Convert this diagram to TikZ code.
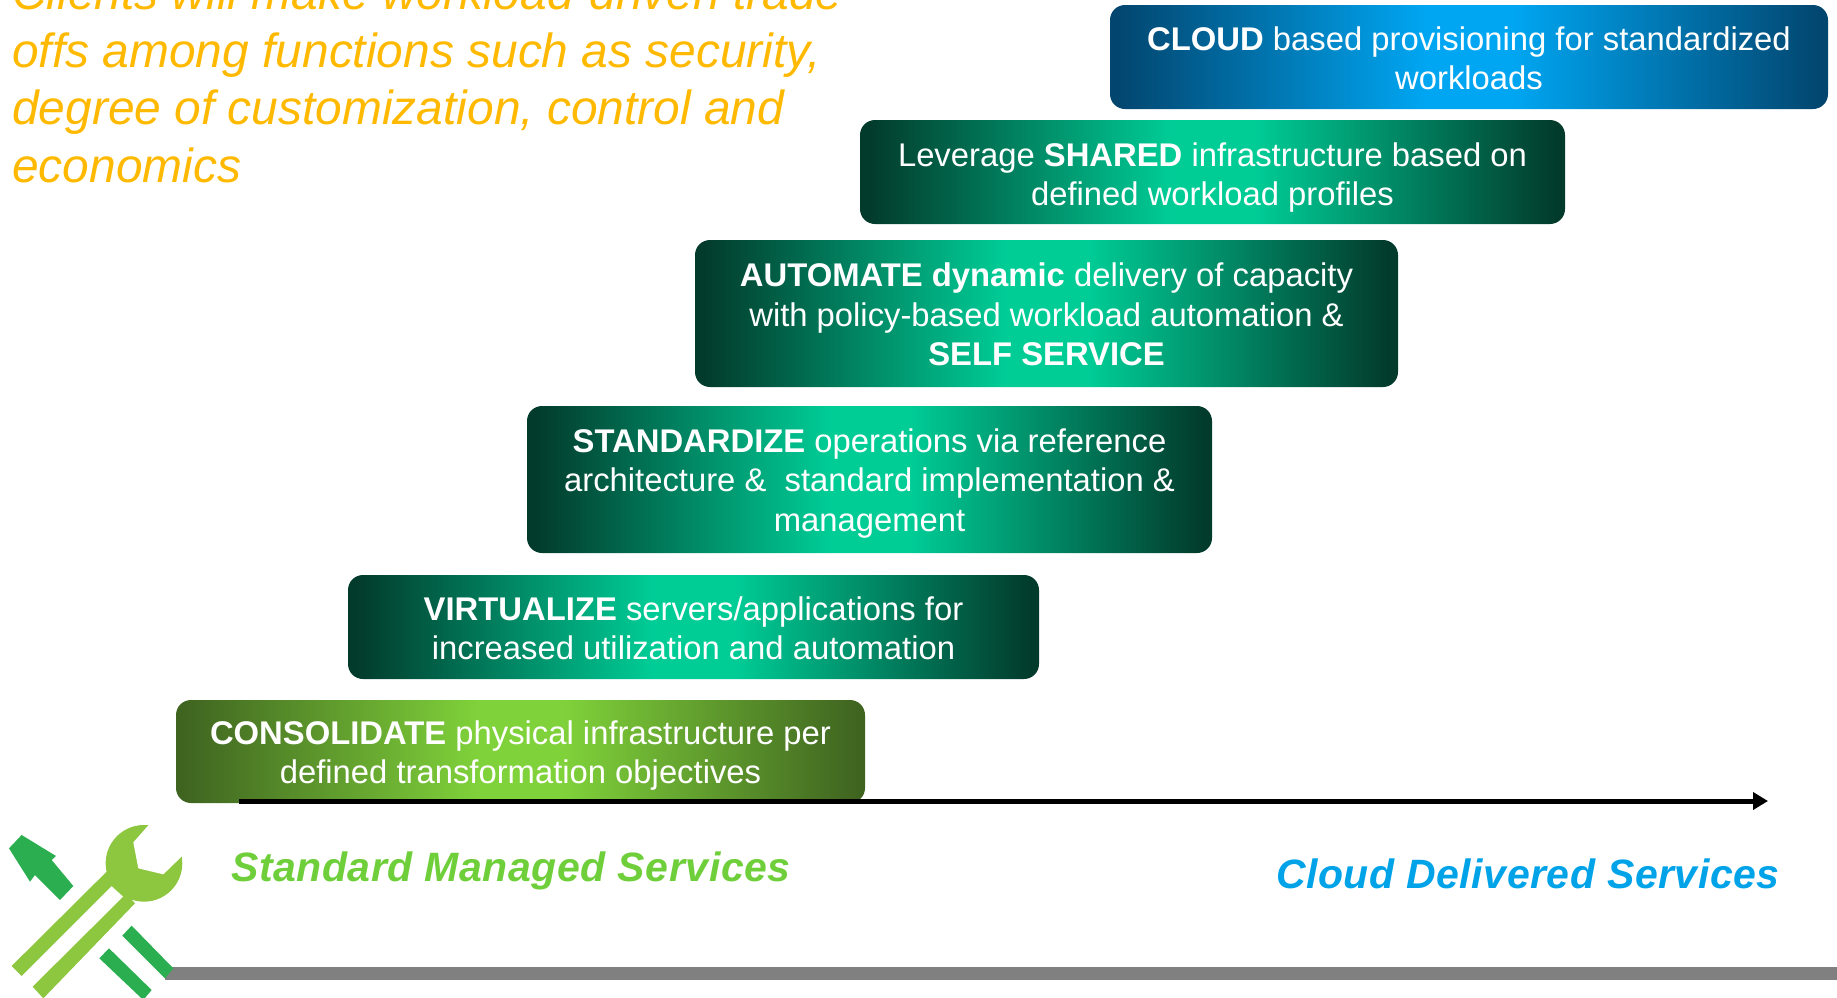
\documentclass[tikz,border=0pt]{standalone}
\usepackage{fontspec}
\setmainfont{Liberation Sans}
\usetikzlibrary{arrows.meta}
\definecolor{tealdark}{HTML}{023A2B}
\definecolor{tealmid}{HTML}{00CC96}
\definecolor{bluedark}{HTML}{02466F}
\definecolor{bluemid}{HTML}{00A6F2}
\definecolor{grndark}{HTML}{3F6420}
\definecolor{grnmid}{HTML}{80D23A}
\definecolor{amber}{HTML}{FFB900}
\definecolor{lblgreen}{HTML}{6FCF3A}
\definecolor{lblblue}{HTML}{00A3E8}
\definecolor{wrench}{HTML}{8DC63F}
\definecolor{icongreen}{HTML}{2BAE50}
\pgfdeclarehorizontalshading{tealshade}{100bp}{color(0bp)=(tealdark); color(25.5bp)=(tealdark); color(47bp)=(tealmid); color(53bp)=(tealmid); color(74.5bp)=(tealdark); color(100bp)=(tealdark)}
\pgfdeclarehorizontalshading{blueshade}{100bp}{color(0bp)=(bluedark); color(25.5bp)=(bluedark); color(47bp)=(bluemid); color(53bp)=(bluemid); color(74.5bp)=(bluedark); color(100bp)=(bluedark)}
\pgfdeclarehorizontalshading{greenshade}{100bp}{color(0bp)=(grndark); color(25.5bp)=(grndark); color(47bp)=(grnmid); color(53bp)=(grnmid); color(74.5bp)=(grndark); color(100bp)=(grndark)}
\tikzset{
  stagebox/.style={rounded corners=15pt, inner sep=0pt, anchor=center},
  stagetext/.style={inner sep=0pt, text=white, align=center, anchor=center,
    font=\fontsize{32.8}{39.3}\selectfont},
  sizebox/.style 2 args={minimum width=#1pt, minimum height=#2pt},
  lbl/.style={inner sep=0pt, anchor=base west, font=\fontsize{41}{48}\selectfont\bfseries\itshape},
}
% name, shading, width, height, cx, cy, text offset, text
\newcommand{\stagenode}[8]{%
  \node[stagebox, shading=#2, shading angle=0, sizebox={#3}{#4}] (#1) at (#5,#6) {};
  \node[stagetext] (#1text) at ([yshift=-#7pt]#1.center) {#8};
}
\begin{document}
\begin{tikzpicture}[x=1pt,y=-1pt]
\useasboundingbox (0,0) rectangle (1837,997);
\clip (0,0) rectangle (1837,997);

\stagenode{cloud}{blueshade}{718}{104}{1469}{57}{1}{\textbf{CLOUD} based provisioning for standardized\\workloads}
\stagenode{shared}{tealshade}{705}{104}{1212.5}{172}{5.5}{Leverage \textbf{SHARED} infrastructure based on\\defined workload profiles}
\stagenode{automate}{tealshade}{703}{147}{1046.5}{313.5}{1}{\textbf{AUTOMATE dynamic} delivery of capacity\\with policy-based workload automation \&\\\textbf{SELF SERVICE}}
\stagenode{standardize}{tealshade}{685}{147}{869.5}{479.5}{4}{\textbf{STANDARDIZE} operations via reference\\architecture \& \ standard implementation \&\\management}
\stagenode{virtualize}{tealshade}{691}{104}{693.5}{627}{1}{\textbf{VIRTUALIZE} servers/applications for\\increased utilization and automation}
\stagenode{consolidate}{greenshade}{689}{103}{520.5}{751.5}{4}{\textbf{CONSOLIDATE} physical infrastructure per\\defined transformation objectives}

\node[anchor=north west, inner sep=0pt, align=left, text=amber,
  font=\fontsize{47.9}{57.5}\selectfont\itshape] (intro) at (12,-25)
  {Clients will make workload-driven trade-\\offs among functions such as security,\\degree of customization, control and\\economics};

\coordinate (arrowstart) at (239,801);
\coordinate (arrowend) at (1768,801);
\draw[line width=5pt, -{Triangle[length=15pt,width=17pt]}] (arrowstart) -- (arrowend);

\node[lbl, text=lblgreen] (standard) at (231,881) {\addfontfeature{LetterSpace=1.4}Standard Managed Services};
\node[lbl, text=lblblue] (delivered) at (1276,888) {\addfontfeature{LetterSpace=1.3}Cloud Delivered Services};

\fill[gray] (165,967) rectangle (1837,980);

\begin{scope}[shift={(0,780)}, x=0.3333pt, y=-0.3333pt]
  \fill[icongreen] (27,205) -- (65,165) -- (168,228) -- (155,240) -- (220,318) -- (180,360) -- (105,285) -- (90,305) -- cycle;
  \fill[icongreen] (395,437) -- (520,565) -- (495,595) -- (367,467) -- cycle;
  \fill[icongreen] (327,505) -- (455,630) -- (430,660) -- (298,535) -- cycle;
  \fill[wrench] (320,275) -- (35,558) -- (65,588) -- (335,318) -- (370,350) -- (98,620) -- (130,655) -- (405,370) -- cycle;
  \fill[wrench] (432,250) circle[radius=115];
  \fill[white] (455,125) -- (400,187) -- (415,265) -- (490,283) -- (560,215) -- (560,125) -- cycle;
\end{scope}
\end{tikzpicture}
\end{document}
